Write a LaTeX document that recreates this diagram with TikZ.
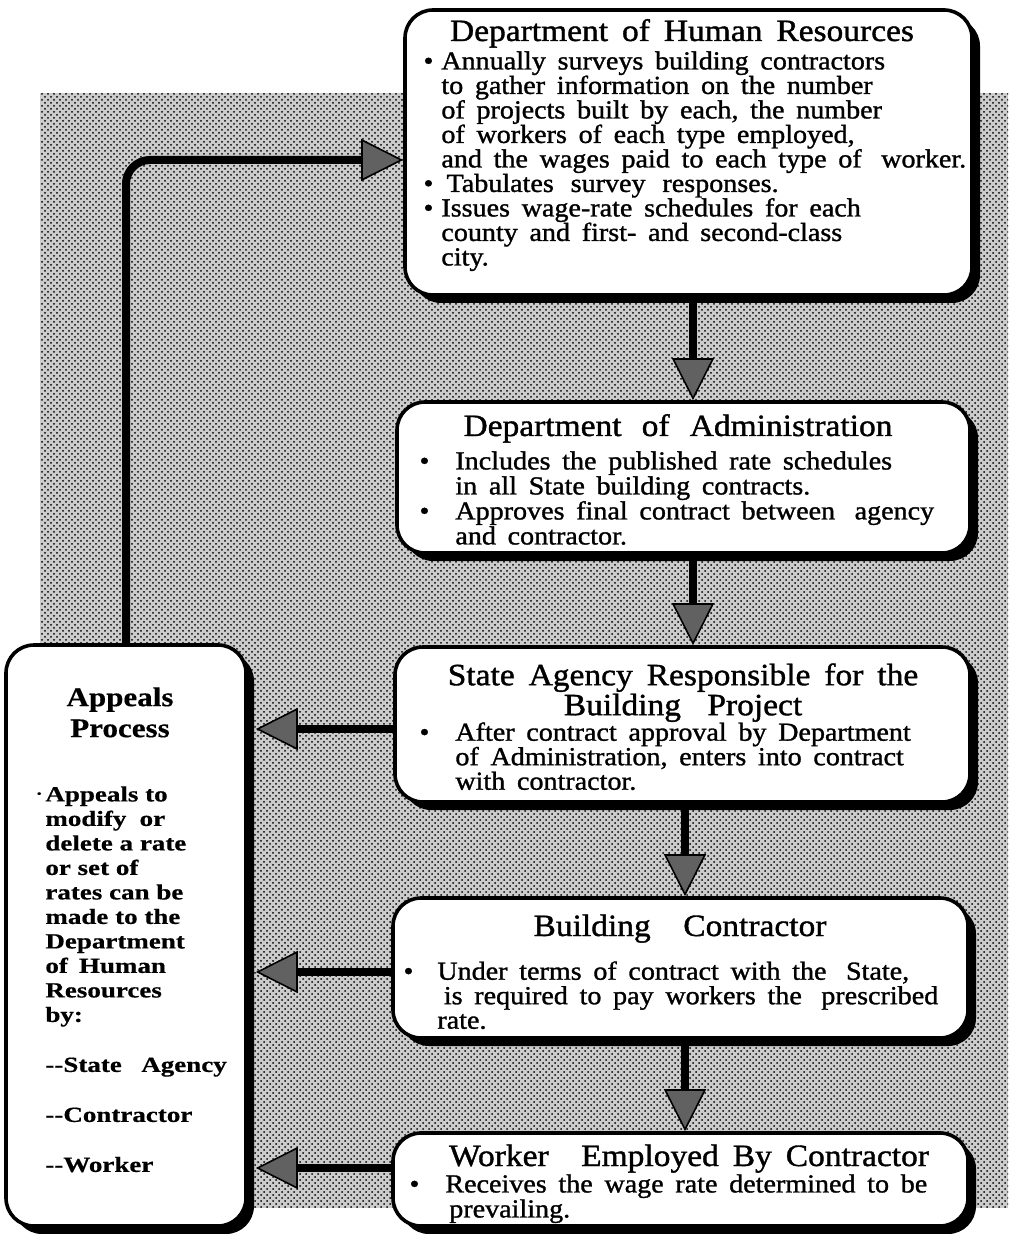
\documentclass[tikz,border=0pt]{standalone}
\usepackage{fontspec}
\setmainfont{Liberation Serif}
\newfontfamily\bxf[FakeStretch=1.08,FakeBold=1.2]{Liberation Serif}
\newfontfamily\apf[FakeStretch=1.25,FakeBold=0.5]{Liberation Serif}
\newfontfamily\aptf[FakeStretch=1.15,FakeBold=0.5]{Liberation Serif}
\usetikzlibrary{arrows.meta,shadows,patterns}
\newcommand\mybul[1]{\llap{\textbullet\hspace{#1}}}
\newcommand\wsp{\spaceskip=.45em plus .1em\relax}
\newcommand\bxsize[2]{\bxf\fontsize{#1}{#2}\selectfont\wsp}
\tikzset{
  box/.style={draw=black, line width=1.8pt, fill=white, rounded corners=14pt, inner sep=0pt,
    drop shadow={shadow xshift=4pt, shadow yshift=-4pt, fill=black, opacity=1}},
  flow/.style={line width=4pt, draw=black,
    -{Triangle[length=21pt, width=21pt, line width=0.8pt 0, fill=black!62]}},
  ttl/.style={inner sep=0pt, anchor=base, align=center, font=\bxsize{15.5}{15}},
  bdy/.style={inner sep=0pt, anchor=north west, align=left, font=\bxsize{13}{12.25}},
  aptitle/.style={inner sep=0pt, anchor=north, align=center,
    font=\aptf\bfseries\fontsize{13.5}{15.5}\selectfont},
  apbody/.style={inner sep=0pt, anchor=north west, align=left,
    font=\apf\bfseries\fontsize{10.8}{12.25}\selectfont}
}
\begin{document}
\begin{tikzpicture}[x=0.5pt,y=-0.5pt]
\useasboundingbox (0,0) rectangle (1008,1234);
% shaded background
\fill[black!20] (40,93) rectangle (1008,1208);
\fill[pattern=crosshatch dots, pattern color=black] (40,93) rectangle (1008,1208);

% helper coordinates
\coordinate (colA) at (693,0);
\coordinate (colB) at (685,0);
\coordinate (fb) at (0,160);
\coordinate (r1) at (0,729);
\coordinate (r2) at (0,972);
\coordinate (r3) at (0,1168);

% boxes
\node[box, minimum width=283.5pt, minimum height=142.5pt] (dhr) at (688.5,152.5) {};
\node[box, minimum width=286.5pt, minimum height=75.5pt] (doa) at (683.5,477.5) {};
\node[box, minimum width=287.5pt, minimum height=77.5pt] (sa) at (682.5,724.5) {};
\node[box, minimum width=287.5pt, minimum height=70pt] (bc) at (680.5,968) {};
\node[box, minimum width=287.5pt, minimum height=46.5pt] (wk) at (680.5,1179.5) {};
\node[box, minimum width=120pt, minimum height=290.5pt] (ap) at (126,935.5) {};

% Department of Human Resources
\node[ttl] (dhrt) at (682,41) {Department of Human Resources};
\node[bdy] (dhrb) at (441,51) {\mybul{4pt}Annually surveys building contractors\\
to gather information on the number\\
of projects built by each, the number\\
of workers of each type employed,\\
and the wages paid to each type of\hspace{.3em} worker.\\
\mybul{4pt}\hspace{.2em}Tabulates\hspace{.2em} survey\hspace{.2em} responses.\\
\mybul{4pt}Issues wage-rate schedules for each\\
county and first- and second-class\\
city.};

% Department of Administration
\node[ttl] (doat) at (678,436) {Department\hspace{.2em} of\hspace{.2em} Administration};
\node[bdy, font=\bxsize{13}{12.5}] (doab) at (455,451) {\mybul{13pt}Includes the published rate schedules\\
in all State building contracts.\\
\mybul{13pt}Approves final contract between\hspace{.3em} agency\\
and contractor.};

% State Agency
\node[ttl, anchor=north] (sat) at (683,663) {State Agency Responsible for the\\Building\hspace{.4em} Project};
\node[bdy] (sab) at (455,722) {\mybul{13pt}After contract approval by Department\\
of Administration, enters into contract\\
with contractor.};

% Building Contractor
\node[ttl] (bct) at (680,936) {Building\hspace{.6em} Contractor};
\node[bdy] (bcb) at (437,961) {\mybul{12pt}Under terms of contract with the\hspace{.3em} State,\\
\hspace{.25em}is required to pay workers the\hspace{.3em} prescribed\\
rate.};

% Worker
\node[ttl] (wkt) at (689,1166) {Worker\hspace{.6em} Employed By Contractor};
\node[bdy, font=\bxsize{13}{12.5}] (wkb) at (445,1174) {\mybul{13pt}Receives the wage rate determined to be\\
\hspace{.15em}prevailing.};

% Appeals
\node[aptitle] (apt) at (120,687) {Appeals\\Process};
\node[apbody] (apb) at (45,786) {\llap{\raisebox{.45ex}{\tiny\textbullet}\hspace{2pt}}Appeals to\\
modify\hspace{.3em} or\\
delete a rate\\
or set of\\
rates can be\\
made to the\\
Department\\
of\hspace{.2em} Human\\
Resources\\
by:\\[12.75pt]
-{}-State\hspace{.9em}Agency\\[12.75pt]
-{}-Contractor\\[12.75pt]
-{}-Worker};

% connectors
\draw[flow] (dhr.south -| colA) -- (doa.north -| colA);
\draw[flow] (doa.south -| colA) -- (sa.north -| colA);
\draw[flow] (sa.south -| colB) -- (bc.north -| colB);
\draw[flow] (bc.south -| colB) -- (wk.north -| colB);
\draw[flow, shorten >=4pt] (sa.west |- r1) -- (ap.east |- r1);
\draw[flow, shorten >=4pt] (bc.west |- r2) -- (ap.east |- r2);
\draw[flow, shorten >=4pt] (wk.west |- r3) -- (ap.east |- r3);
\draw[flow, rounded corners=12pt] (ap.north) |- (dhr.west |- fb);
\end{tikzpicture}
\end{document}
